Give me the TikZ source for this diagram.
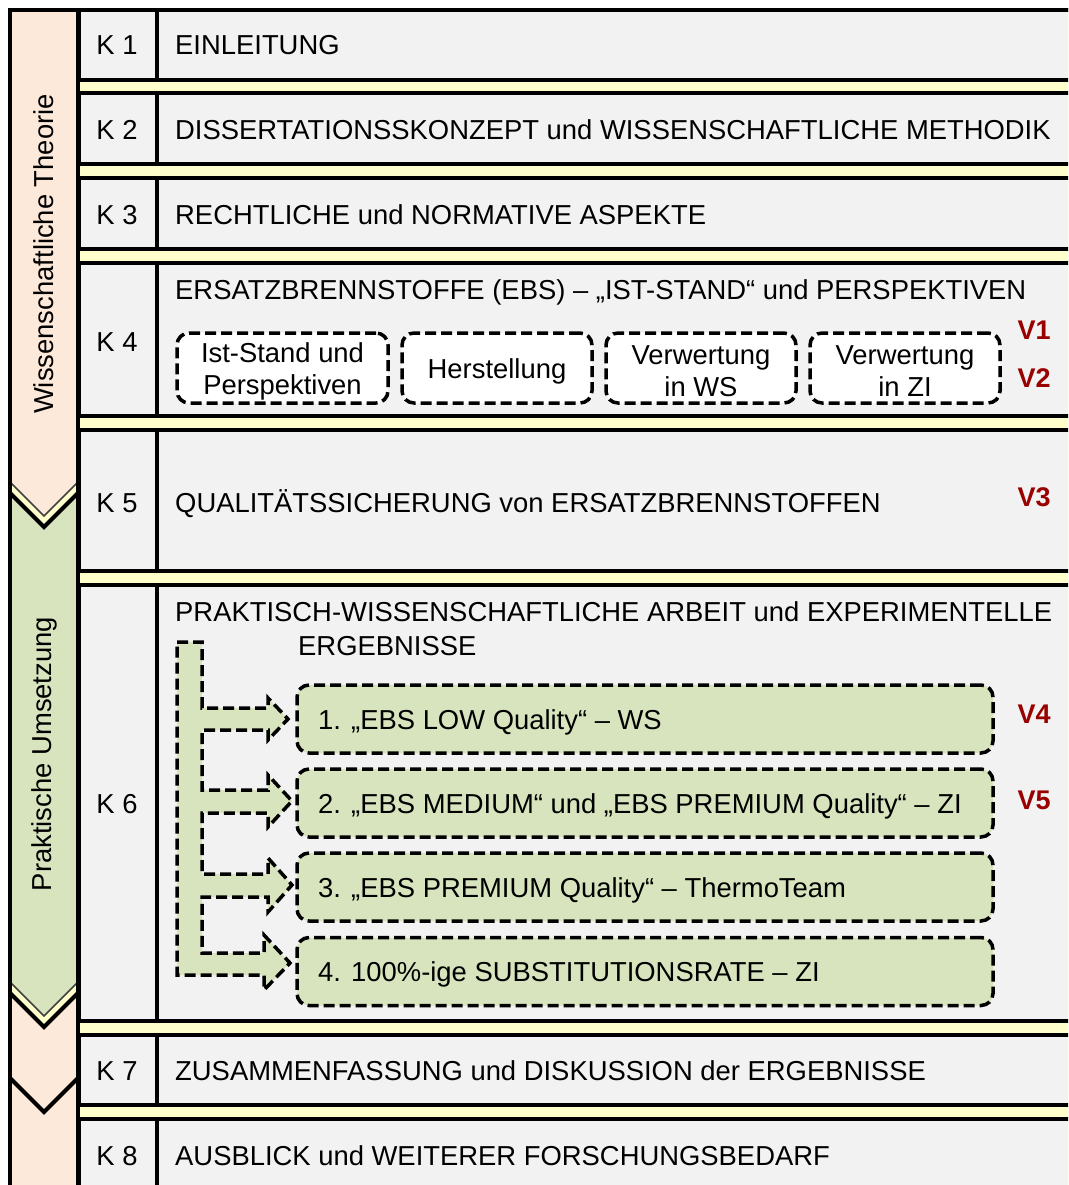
\documentclass[tikz,border=0pt]{standalone}
\usepackage{fontspec}
\setmainfont{Liberation Sans}
\definecolor{rowgray}{HTML}{F2F2F2}
\definecolor{stripyellow}{HTML}{FFFFCC}
\definecolor{peach}{HTML}{FDE9D9}
\definecolor{leaf}{HTML}{D7E4BD}
\definecolor{vred}{HTML}{990000}
\begin{document}
\begin{tikzpicture}[x=1pt,y=-1pt,
  rowbox/.style={draw=black,line width=4pt,fill=rowgray},
  sep/.style={draw=black,line width=4pt},
  txt/.style={font=\fontsize{27.4}{32}\selectfont,inner sep=0pt},
  klabel/.style={txt,anchor=base},
  ttl/.style={txt,anchor=base west},
  vtag/.style={font=\bfseries\fontsize{27}{30}\selectfont,text=vred,inner sep=0pt},
  dashline/.style={draw=black,dash pattern=on 11pt off 5pt,line width=3.5pt},
  dbox/.style={dashline,rounded corners=12pt,fill=white,minimum height=70pt,inner sep=0pt},
  dtext/.style={txt,align=center},
  gbox/.style={dashline,rounded corners=12pt,fill=leaf,minimum width=696pt,minimum height=68pt,inner sep=0pt},
  gtext/.style={txt,anchor=base west},
  sidetext/.style={txt,rotate=90},
  chev/.style={draw=black,line width=4pt},
  chevthin/.style={draw=black!75,line width=1.5pt},
]
\useasboundingbox (0,0) rectangle (1068,1185);
\clip (0,0) rectangle (1068,1185);

% yellow strips behind the chapter rows
\fill[stripyellow] (79,10) rectangle (1080,1200);

% chapter rows
\foreach \t/\b in {10/80, 93/164, 178/249, 263/416, 430/571, 585/1021, 1035/1105, 1119/1200}{
  \draw[rowbox] (79,\t) rectangle (1080,\b);
  \draw[sep] (157,\t) -- (157,\b);
}

% left column: theory / practice bands
\fill[peach] (10,10) rectangle (78,1200);
\fill[stripyellow] (10,482) -- (44,516) -- (78,482) -- (78,493) -- (44,527) -- (10,493) -- cycle;
\fill[leaf] (10,493) -- (44,527) -- (78,493) -- (78,982) -- (44,1016) -- (10,982) -- cycle;
\fill[stripyellow] (10,982) -- (44,1016) -- (78,982) -- (78,993) -- (44,1027) -- (10,993) -- cycle;
\draw[chevthin] (10,482) -- (44,516) -- (78,482);
\draw[chev] (10,493) -- (44,527) -- (78,493);
\draw[chevthin] (10,982) -- (44,1016) -- (78,982);
\draw[chev] (10,993) -- (44,1027) -- (78,993);
\draw[chev] (10,1078) -- (44,1112) -- (78,1078);
\draw[line width=4pt] (10,1200) -- (10,10) -- (1080,10);
\draw[line width=4pt] (78,10) -- (78,1200);

\node[sidetext] (theory) at (44,254) {Wissenschaftliche Theorie};
\node[sidetext] (practice) at (44,754) {Praktische Umsetzung};

% row labels
\node[klabel] (k1) at (117,55) {K 1};
\node[klabel] (k2) at (117,140) {K 2};
\node[klabel] (k3) at (117,224) {K 3};
\node[klabel] (k4) at (117,351) {K 4};
\node[klabel] (k5) at (117,512) {K 5};
\node[klabel] (k6) at (117,813) {K 6};
\node[klabel] (k7) at (117,1080) {K 7};
\node[klabel] (k8) at (117,1165) {K 8};

% chapter titles
\node[ttl] (t1) at (175,55) {EINLEITUNG};
\node[ttl] (t2) at (175,140) {DISSERTATIONSSKONZEPT und WISSENSCHAFTLICHE METHODIK};
\node[ttl] (t3) at (175,224) {RECHTLICHE und NORMATIVE ASPEKTE};
\node[ttl] (t4) at (175,299) {ERSATZBRENNSTOFFE (EBS) – „IST-STAND“ und PERSPEKTIVEN};
\node[ttl] (t5) at (175,512) {QUALITÄTSSICHERUNG von ERSATZBRENNSTOFFEN};
\node[ttl] (t6a) at (175,621) {PRAKTISCH-WISSENSCHAFTLICHE ARBEIT und EXPERIMENTELLE};
\node[ttl] (t6b) at (298,655) {ERGEBNISSE};
\node[ttl] (t7) at (175,1080) {ZUSAMMENFASSUNG und DISKUSSION der ERGEBNISSE};
\node[ttl] (t8) at (175,1165) {AUSBLICK und WEITERER FORSCHUNGSBEDARF};

% K4 topics
\node[dbox,minimum width=211pt] (b1) at (282.5,368) {};
\node[dbox,minimum width=190pt] (b2) at (497,368) {};
\node[dbox,minimum width=190pt] (b3) at (701,368) {};
\node[dbox,minimum width=190pt] (b4) at (905,368) {};
\node[dtext] (bt1) at ([yshift=-3pt]b1.center) {Ist-Stand und\\Perspektiven};
\node[dtext] (bt2) at ([yshift=-3pt]b2.center) {Herstellung};
\node[dtext] (bt3) at ([yshift=-3pt]b3.center) {Verwertung\\in WS};
\node[dtext] (bt4) at ([yshift=-3pt]b4.center) {Verwertung\\in ZI};

% K6 branching arrow
\filldraw[dashline,fill=leaf]
  (177,642) -- (202,642) -- (202,708) -- (268,708) -- (268,698) -- (288,719)
  -- (268,740) -- (268,730) -- (202,730) -- (202,790) -- (268,790) -- (268,775)
  -- (292,801) -- (268,827) -- (268,813) -- (202,813) -- (202,874) -- (268,874)
  -- (268,858) -- (292,885) -- (268,912) -- (268,897) -- (202,897) -- (202,953)
  -- (264,953) -- (264,935) -- (290,963) -- (264,990) -- (264,975) -- (177,975) -- cycle;

% K6 experiments
\node[gbox] (g1) at (645,719) {};
\node[gbox] (g2) at (645,803) {};
\node[gbox] (g3) at (645,887) {};
\node[gbox] (g4) at (645,971.5) {};
\node[gtext] (e1) at (318,729) {1. „EBS LOW Quality“ – WS};
\node[gtext] (e2) at (318,813) {2. „EBS MEDIUM“ und „EBS PREMIUM Quality“ – ZI};
\node[gtext] (e3) at (318,897) {3. „EBS PREMIUM Quality“ – ThermoTeam};
\node[gtext] (e4) at (318,981) {4. 100\%-ige SUBSTITUTIONSRATE – ZI};

% publication tags
\node[vtag] (v1) at (1034,330) {V1};
\node[vtag] (v2) at (1034,378) {V2};
\node[vtag] (v3) at (1034,497) {V3};
\node[vtag] (v4) at (1034,714) {V4};
\node[vtag] (v5) at (1034,800) {V5};
\end{tikzpicture}
\end{document}
